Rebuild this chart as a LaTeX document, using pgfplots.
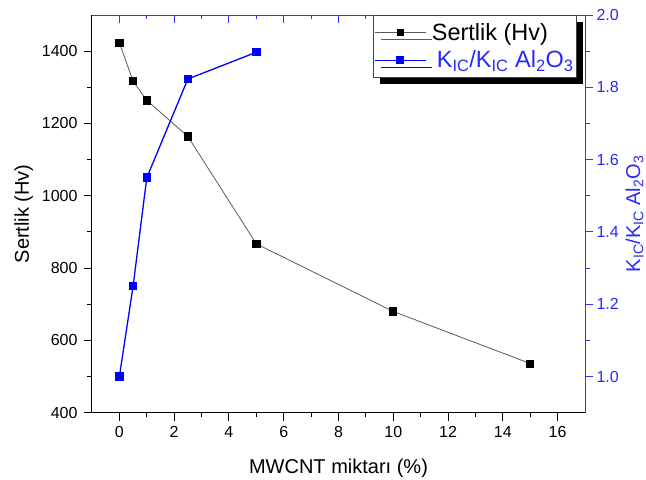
\documentclass[border=0pt]{standalone}
\usepackage{pgfplots}
\pgfplotsset{compat=1.18}
\usepackage{fontspec}
\setmainfont{Liberation Sans}
\usetikzlibrary{shadows}
\definecolor{oblue}{RGB}{0,0,255}
\definecolor{tblue}{RGB}{40,40,255}
\definecolor{lgray}{RGB}{90,90,90}
\definecolor{axblue}{RGB}{50,50,255}
\begin{document}
\begin{tikzpicture}
\pgfplotsset{
  every axis/.append style={scale only axis, width=493pt, height=397.7pt,
    xmin=-1, xmax=17,
    /pgf/number format/assume math mode=true,
    /pgf/number format/1000 sep={},
    tick label style={font=\fontsize{16}{18}\selectfont},
    label style={font=\fontsize{20}{24}\selectfont},
    major tick length=8pt, minor tick length=4.5pt},
}
% top axis (ticks only), drawn first
\begin{axis}[
  hide y axis,
  ymin=0, ymax=1,
  xtick={0,2,4,6,8,10,12,14,16},
  minor xtick={1,3,5,7,9,11,13,15},
  xtick pos=right, xticklabel pos=right,
  xticklabel style={opacity=0},
  tick align=inside,
  axis line style={axblue, line width=0.9pt, -},
  every tick/.style={axblue, line width=0.9pt},
  every minor tick/.style={axblue, line width=0.9pt},
]
\addplot[draw=none, forget plot] coordinates {(0,0.5)(16,0.5)};
\end{axis}
\begin{axis}[
  axis x line*=bottom, axis y line*=left,
  xtick={0,2,4,6,8,10,12,14,16}, minor x tick num=1,
  ymin=400, ymax=1500, ytick={400,600,800,1000,1200,1400}, minor y tick num=1,
  tick align=outside,
  xlabel={MWCNT miktarı (\%)}, ylabel={Sertlik (Hv)},
  xlabel style={yshift=-15pt},
  ylabel style={yshift=2pt},
  yticklabel style={xshift=-3pt},
  xticklabel style={yshift=-2pt},
  axis line style={black, line width=1pt, -}, tick style={black, line width=1pt},
]
\addplot[color=lgray, line width=0.8pt, mark=square*, mark size=3.6pt, mark options={fill=black, draw=black, solid}] coordinates {(0,1423)(0.5,1317)(1,1264)(2.5,1164)(5,867)(10,680)(15,536)};
\end{axis}
\begin{axis}[
  axis x line*=top, axis y line*=right,
  xtick=\empty,
  ymin=0.9, ymax=2.0, ytick={1.0,1.2,1.4,1.6,1.8,2.0}, minor y tick num=1,
  tick align=outside,
  yticklabel style={text=tblue, /pgf/number format/fixed, /pgf/number format/fixed zerofill, /pgf/number format/precision=1},
  ylabel={K\textsubscript{IC}/K\textsubscript{IC} Al\textsubscript{2}O\textsubscript{3}},
  ylabel style={text=tblue},
  axis line style={axblue, line width=0.9pt, -}, tick style={axblue, line width=0.9pt},
  legend style={at={(rel axis cs:1,1)}, anchor=north east, xshift=-8pt,
    draw=darkgray, line width=0.8pt, fill=white,
    font=\fontsize{23.5}{25}\selectfont,
    drop shadow={shadow xshift=6pt, shadow yshift=-7pt, fill=black, opacity=1},
    inner xsep=1pt, inner ysep=6pt, row sep=5pt,
    /tikz/every odd column/.append style={column sep=3pt}},
  legend cell align=left,
  legend image code/.code={\draw[#1, mark repeat=2, mark phase=2] plot coordinates {(0pt,0pt) (25pt,0pt) (51pt,0pt)};},
]
\addlegendimage{color=lgray, line width=0.8pt, mark=square*, mark size=3pt, mark options={fill=black, draw=black, solid}}
\addlegendentry{Sertlik (Hv)}
\addplot[color=oblue, line width=1.3pt, mark=square*, mark size=3.6pt, mark options={fill=oblue, draw=oblue, solid}] coordinates {(0,1.0)(0.5,1.25)(1,1.55)(2.5,1.823)(5,1.897)};
\addlegendentry{\hspace{5pt}\textcolor{tblue}{K\textsubscript{IC}/K\textsubscript{IC} Al\textsubscript{2}O\textsubscript{3}}}
\end{axis}
\pgfresetboundingbox
\path[use as bounding box] ([shift={(-92pt,-66.3pt)}]current axis.south west) rectangle ([shift={(61pt,15pt)}]current axis.north east);
\end{tikzpicture}
\end{document}
